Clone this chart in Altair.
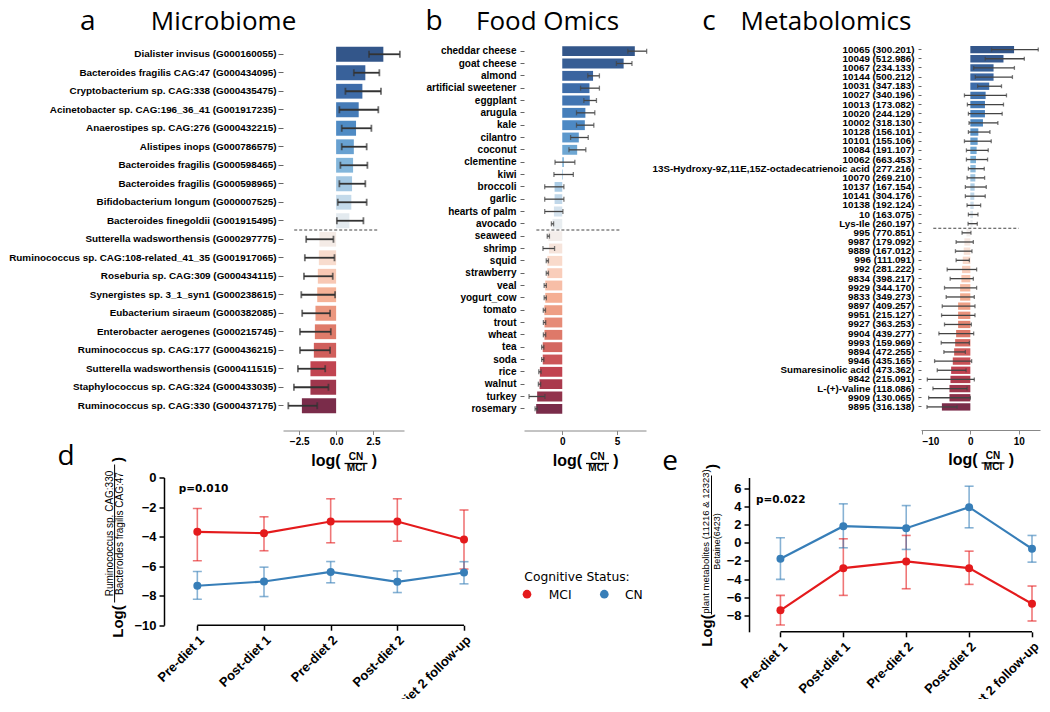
import altair as alt
import numpy as np
import pandas as pd

FONT = "Liberation Sans"
TFONT = "Open Sans"
DV = "DejaVu Sans"
RED = "#e41a1c"
BLUE = "#377eb8"

# ---------------- data: panel a (Microbiome) ----------------
micro_labels = [
    "Dialister invisus (G000160055)",
    "Bacteroides fragilis CAG:47 (G000434095)",
    "Cryptobacterium sp. CAG:338 (G000435475)",
    "Acinetobacter sp. CAG:196_36_41 (G001917235)",
    "Anaerostipes sp. CAG:276 (G000432215)",
    "Alistipes inops (G000786575)",
    "Bacteroides fragilis (G000598465)",
    "Bacteroides fragilis (G000598965)",
    "Bifidobacterium longum (G000007525)",
    "Bacteroides finegoldii (G001915495)",
    "Sutterella wadsworthensis (G000297775)",
    "Ruminococcus sp. CAG:108-related_41_35 (G001917065)",
    "Roseburia sp. CAG:309 (G000434115)",
    "Synergistes sp. 3_1_syn1 (G000238615)",
    "Eubacterium siraeum (G000382085)",
    "Enterobacter aerogenes (G000215745)",
    "Ruminococcus sp. CAG:177 (G000436215)",
    "Sutterella wadsworthensis (G000411515)",
    "Staphylococcus sp. CAG:324 (G000433035)",
    "Ruminococcus sp. CAG:330 (G000437175)",
]
micro_value = [3.2, 1.98, 1.78, 1.53, 1.35, 1.2, 1.15, 1.08, 1.03, 0.9,
               -1.13, -1.17, -1.24, -1.28, -1.4, -1.44, -1.51, -1.74, -1.74, -2.32]
micro_lo = [2.23, 1.2, 0.63, 0.22, 0.38, 0.38, 0.29, 0.22, 0.11, 0.05,
            -2.03, -2.12, -2.18, -2.36, -2.3, -2.45, -2.45, -2.59, -2.86, -3.24]
micro_hi = [4.32, 2.93, 3.04, 2.86, 2.39, 2.07, 2.12, 1.98, 2.07, 1.85,
            -0.18, -0.11, -0.23, -0.07, -0.41, -0.36, -0.41, -0.74, -0.52, -1.28]
micro_npos = 10
micro_dash = [-2.84, 2.9]

# ---------------- data: panel b (Food Omics) ----------------
food_labels = ["cheddar cheese", "goat cheese", "almond", "artificial sweetener", "eggplant",
               "arugula", "kale", "cilantro", "coconut", "clementine", "kiwi", "broccoli",
               "garlic", "hearts of palm", "avocado", "seaweed", "shrimp", "squid",
               "strawberry", "veal", "yogurt_cow", "tomato", "trout", "wheat", "tea", "soda",
               "rice", "walnut", "turkey", "rosemary"]
food_value = [6.62, 5.6, 2.81, 2.48, 2.51, 2.11, 2.06, 1.51, 1.36, 0.15,
              0.06, -0.7, -0.7, -0.76, -0.89, -1.27, -1.21, -1.36, -1.36, -1.55,
              -1.55, -1.63, -1.62, -1.62, -1.78, -1.78, -2.04, -2.07, -2.29, -2.38]
food_lo = [5.98, 4.94, 2.33, 1.67, 1.97, 1.3, 1.3, 0.76, 0.61, -0.66,
           -0.76, -1.6, -1.6, -1.6, -0.99, -1.37, -1.76, -1.46, -1.46, -1.65,
           -1.65, -1.73, -1.72, -1.72, -1.88, -1.88, -2.14, -2.18, -3.03, -2.48]
food_hi = [7.7, 6.36, 3.39, 3.39, 3.12, 2.97, 2.88, 2.37, 2.15, 1.15,
           1.01, 0.15, 0.15, 0.06, -0.79, -1.17, -0.7, -1.26, -1.26, -1.45,
           -1.45, -1.53, -1.51, -1.51, -1.68, -1.68, -1.93, -1.97, -1.58, -2.28]
food_npos = 15
food_dash = [-2.36, 5.39]

# ---------------- data: panel c (Metabolomics) ----------------
metab_labels = [
    "10065 (300.201)", "10049 (512.986)", "10067 (234.133)", "10144 (500.212)",
    "10031 (347.183)", "10027 (340.196)", "10013 (173.082)", "10020 (244.129)",
    "10002 (318.130)", "10128 (156.101)", "10101 (155.106)", "10084 (191.107)",
    "10062 (663.453)", "13S-Hydroxy-9Z,11E,15Z-octadecatrienoic acid (277.216)",
    "10070 (269.210)", "10137 (167.154)", "10141 (304.176)", "10138 (192.124)",
    "10 (163.075)", "Lys-Ile (260.197)", "995 (770.851)", "9987 (179.092)",
    "9889 (167.012)", "996 (111.091)", "992 (281.222)", "9834 (398.217)",
    "9929 (344.170)", "9833 (349.273)", "9897 (409.257)", "9951 (215.127)",
    "9927 (363.253)", "9904 (439.277)", "9993 (159.969)", "9894 (472.255)",
    "9946 (435.165)", "Sumaresinolic acid (473.362)", "9842 (215.091)",
    "L-(+)-Valine (118.086)", "9909 (130.065)", "9895 (316.138)",
]
metab_value = [9.04, 6.85, 4.8, 4.8, 3.9, 3.16, 3.02, 3.02, 2.61, 1.65,
               1.51, 1.3, 1.17, 1.1, 1.03, 0.89, 0.82, 0.69, 0.55, 0.48,
               -0.8, -1.23, -1.37, -1.57, -1.71, -1.85, -2.12, -2.12, -2.53, -2.53,
               -2.53, -2.94, -3.14, -3.35, -3.63, -3.97, -4.11, -4.31, -4.31, -5.88]
metab_lo = [4.39, 3.08, 0.69, 1.03, 1.51, -1.22, -0.61, -0.4, -0.27, -0.4,
            -1.22, -0.81, -0.81, -0.4, -0.68, -1.03, -1.03, -0.68, -0.4, -0.47,
            -1.71, -2.94, -3.08, -2.94, -4.79, -4.17, -5.34, -4.99, -5.81, -5.95,
            -5.34, -6.5, -6.02, -5.47, -7.39, -6.84, -8.89, -7.73, -8.62, -8.96]
metab_hi = [14.04, 11.16, 9.11, 8.7, 6.44, 7.47, 6.85, 6.58, 5.69, 4.05,
            4.32, 3.7, 3.56, 2.88, 2.95, 3.29, 3.08, 2.13, 1.58, 1.44,
            0.13, 0.62, 0.34, -0.2, 1.3, 0.62, 1.3, 0.82, 0.96, 0.96,
            0.21, 0.69, -0.2, -1.03, 0.27, -0.88, 0.82, -0.68, 0.0, -2.74]
metab_npos = 20
metab_dash = [-7.66, 10.0]

# ---------------- data: panels d / e ----------------
timepoints = ["Pre-diet 1", "Post-diet 1", "Pre-diet 2", "Post-diet 2", "Diet 2 follow-up"]
d_mci = [-3.68, -3.77, -2.98, -2.98, -4.2]
d_mci_lo = [-5.64, -4.96, -4.42, -4.31, -6.2]
d_mci_hi = [-2.1, -2.66, -1.44, -1.44, -2.2]
d_cn = [-7.33, -7.04, -6.39, -7.06, -6.43]
d_cn_lo = [-8.24, -8.06, -7.13, -7.79, -7.2]
d_cn_hi = [-6.36, -6.07, -5.69, -6.32, -5.7]

e_mci = [-7.44, -2.79, -2.05, -2.79, -6.71]
e_mci_lo = [-9.05, -5.79, -5.06, -4.58, -8.61]
e_mci_hi = [-5.79, 0.44, 0.81, -0.92, -4.76]
e_cn = [-1.76, 1.83, 1.61, 3.92, -0.66]
e_cn_lo = [-4.03, -0.55, -0.73, 1.65, -2.13]
e_cn_hi = [0.55, 4.29, 4.1, 6.23, 0.81]

status_names = ["MCI", "CN"]

# ---------------- helpers ----------------
ONE = pd.DataFrame({"t": [""]})

shade_scale = alt.Scale(
    domain=[i / 10 for i in range(11)],
    range=["#33568a", "#3d6ba8", "#4a86c2", "#79b1d9", "#b8d3e8", "#f2f2f2",
           "#fad6c5", "#f4ab8e", "#dc7566", "#c0414f", "#7a2c4a"],
    interpolate="rgb",
)


def txt(s, x, y, size, weight="bold", font=FONT, align="center",
        baseline="alphabetic", angle=None, color="black"):
    kw = dict(fontSize=size, fontWeight=weight, font=font, align=align,
              baseline=baseline, color=color)
    if angle is not None:
        kw["angle"] = angle
    return alt.Chart(pd.DataFrame({"t": [s]})).mark_text(**kw).encode(
        text="t:N", x=alt.value(x), y=alt.value(y))


def rule_h(x1, x2, y, w=1.2, color="black"):
    return alt.Chart(ONE).mark_rule(strokeWidth=w, color=color).encode(
        x=alt.value(x1), x2=alt.value(x2), y=alt.value(y))


def rule_v(x, y1, y2, w=1.0, color="black"):
    return alt.Chart(ONE).mark_rule(strokeWidth=w, color=color).encode(
        x=alt.value(x), y=alt.value(y1), y2=alt.value(y2))


def dot(x, y, color, size=75):
    return alt.Chart(ONE).mark_circle(color=color, size=size, opacity=1).encode(
        x=alt.value(x), y=alt.value(y))


def spacer(w):
    return alt.Chart(ONE).mark_point(opacity=0).encode(
        x=alt.value(0), y=alt.value(0)).properties(width=w, height=1)


def bar_panel(labels, value, lo, hi, n_pos, dash, xdom, xticks, xfmt, w, h,
              lab_size, lab_pad, tick_len, x_off, cap, ew, ecol,
              letter, name, lx, nx):
    n = len(labels)
    df = pd.DataFrame({"label": labels, "value": value, "lo": lo, "hi": hi,
                       "shade": np.arange(n) / (n - 1)})
    xs = alt.Scale(domain=xdom, nice=False, zero=False)
    ys = alt.Scale(paddingInner=0.2, paddingOuter=0.1)
    yax = alt.Axis(title=None, domain=False, ticks=True, tickSize=tick_len,
                   tickColor="#666", tickWidth=1, labelFont=FONT,
                   labelFontSize=lab_size, labelFontWeight="bold",
                   labelColor="black", labelPadding=lab_pad, labelLimit=600,
                   labelOverlap=False)
    xax = alt.Axis(title=None, values=xticks, format=xfmt, offset=x_off, grid=False,
                   domainColor="#888", domainWidth=1, tickColor="#888", tickSize=4,
                   labelFont=FONT, labelFontSize=10, labelFontWeight="bold",
                   labelColor="black", labelPadding=2, labelOverlap=False,
                   tickCount=20)
    base = alt.Chart(df)
    yplain = alt.Y("label:N", sort=labels, title=None)
    bars = base.mark_bar().encode(
        y=alt.Y("label:N", sort=labels, scale=ys, axis=yax, title=None),
        x=alt.X("value:Q", scale=xs, axis=xax, title=None),
        color=alt.Color("shade:Q", scale=shade_scale, legend=None),
    )
    err = base.mark_rule(color=ecol, strokeWidth=ew).encode(
        y=yplain, x=alt.X("lo:Q", title=None), x2="hi:Q")
    c1 = base.mark_tick(color=ecol, thickness=ew, size=cap, orient="vertical").encode(
        y=yplain, x=alt.X("lo:Q", title=None))
    c2 = base.mark_tick(color=ecol, thickness=ew, size=cap, orient="vertical").encode(
        y=yplain, x=alt.X("hi:Q", title=None))
    ddf = pd.DataFrame({"label": [labels[n_pos]], "x1": [dash[0]], "x2": [dash[1]]})
    step = h / n
    dl = alt.Chart(ddf).mark_rule(color="#444", strokeWidth=1, strokeDash=[3, 2],
                                  yOffset=-0.1 * step).encode(
        y=alt.Y("label:N", sort=labels, title=None, bandPosition=0),
        x=alt.X("x1:Q", title=None), x2="x2:Q")
    ay = h + x_off
    cx = w / 2
    deco = [
        txt(letter, lx, -14.8, 28, weight="normal", font=TFONT),
        txt(name, nx, -14.8, 26, weight="normal", font=TFONT),
        txt("log(", cx - 17.5, ay + 35.3, 16),
        txt("CN", cx + 12.5, ay + 29.3, 10),
        rule_h(cx + 1, cx + 24, ay + 33, 1.3),
        txt("MCI", cx + 12.5, ay + 40.3, 10),
        txt(")", cx + 31, ay + 35.3, 16),
    ]
    return alt.layer(bars, err, c1, c2, dl, *deco).properties(width=w, height=h)


def line_panel(mci, mci_lo, mci_hi, cn, cn_lo, cn_hi, ydom, yticks, cell_w, plot_w, h, deco):
    rows = []
    for i in range(len(timepoints)):
        rows.append({"idx": i, "status": status_names[0], "m": mci[i], "lo": mci_lo[i], "hi": mci_hi[i]})
        rows.append({"idx": i, "status": status_names[1], "m": cn[i], "lo": cn_lo[i], "hi": cn_hi[i]})
    df = pd.DataFrame(rows)
    xs = alt.Scale(domain=[-0.5, len(timepoints) - 1], range=[0, plot_w], nice=False, zero=False)
    ys = alt.Scale(domain=ydom, nice=False, zero=False)
    lab_expr = "[" + ",".join("'%s'" % t for t in timepoints) + "][datum.value]"
    xax = alt.Axis(title=None, values=list(range(len(timepoints))), labelExpr=lab_expr,
                   domain=False, ticks=True, tickSize=5, tickWidth=1.5, tickColor="black",
                   labelAngle=-45, labelAlign="right", labelBaseline="top",
                   labelFont=FONT, labelFontSize=13, labelFontWeight="bold",
                   labelColor="black", grid=False, labelPadding=3, labelOverlap=False,
                   tickCount=20)
    yax = alt.Axis(title=None, values=yticks, format="d", domainColor="black", domainWidth=1.5,
                   tickColor="black", tickWidth=1.5, tickSize=5, labelFont=FONT,
                   labelFontSize=13, labelFontWeight="bold", labelColor="black",
                   grid=False, labelPadding=3, labelOverlap=False, tickCount=20)
    col = alt.Color("status:N", scale=alt.Scale(domain=status_names, range=[RED, BLUE]),
                    legend=None)
    base = alt.Chart(df)
    line = base.mark_line(strokeWidth=2.2).encode(
        x=alt.X("idx:Q", scale=xs, axis=xax, title=None),
        y=alt.Y("m:Q", scale=ys, axis=yax, title=None), color=col)
    pts = base.mark_circle(size=64, opacity=1).encode(
        x=alt.X("idx:Q", title=None), y=alt.Y("m:Q", title=None), color=col)
    err = base.mark_rule(strokeWidth=1.6, opacity=0.6).encode(
        x=alt.X("idx:Q", title=None), y=alt.Y("lo:Q", title=None), y2="hi:Q", color=col)
    cap1 = base.mark_tick(orient="horizontal", size=9, thickness=1.6, opacity=0.6).encode(
        x=alt.X("idx:Q", title=None), y=alt.Y("lo:Q", title=None), color=col)
    cap2 = base.mark_tick(orient="horizontal", size=9, thickness=1.6, opacity=0.6).encode(
        x=alt.X("idx:Q", title=None), y=alt.Y("hi:Q", title=None), color=col)
    xline = alt.Chart(pd.DataFrame({"a": [0], "b": [len(timepoints) - 1]})).mark_rule(
        strokeWidth=1.5, color="black").encode(
        x=alt.X("a:Q", scale=xs, title=None), x2="b:Q", y=alt.value(h))
    return alt.layer(err, cap1, cap2, line, pts, xline, *deco).properties(width=cell_w, height=h)


# ---------------- panels ----------------
pa = bar_panel(micro_labels, micro_value, micro_lo, micro_hi, micro_npos, micro_dash,
               [-3.6, 4.6], [-2.5, 0, 2.5], ".1f", 121, 370,
               9.9, 2, 5, 15.5, 7, 1.8, "#333", "a", "Microbiome", -195.3, -59.5)
pb = bar_panel(food_labels, food_value, food_lo, food_hi, food_npos, food_dash,
               [-3.49, 7.64], [0, 5], "d", 122, 370,
               10, 4, 4, 15.5, 5, 1.3, "#444", "b", "Food Omics", -90, 23.5)
pc = bar_panel(metab_labels, metab_value, metab_lo, metab_hi, metab_npos, metab_dash,
               [-10.2, 14.4], [-10, 0, 10], "d", 119, 366.5,
               9.8, 4, 3, 18.5, 4, 1.3, "#444", "c", "Metabolomics", -212, -95)

d_deco = [
    txt("d", -98, -12.3, 28, weight="normal", font=TFONT),
    txt("p=0.010", 39.5, 14.3, 10.5, font=DV),
    txt("Log(", -46.2, 144, 15, baseline="middle", angle=270),
    txt("Ruminococcus sp. CAG:330", -54, 56, 10, weight="normal", baseline="middle", angle=270),
    rule_v(-49.4, -13, 125, 1),
    txt("Bacteroides fragilis CAG:47", -44, 56, 10, weight="normal", baseline="middle", angle=270),
    txt(")", -46.2, -18, 15, baseline="middle", angle=270),
    txt("Cognitive Status:", 360.3, 103, 12.3, weight="normal", font=DV, align="left"),
    dot(363, 116.7, RED),
    txt("MCI", 384.7, 121, 12.3, weight="normal", font=DV, align="left"),
    dot(440.3, 116.7, BLUE),
    txt("CN", 461, 121, 12.3, weight="normal", font=DV, align="left"),
]
pd_ = line_panel(d_mci, d_mci_lo, d_mci_hi, d_cn, d_cn_lo, d_cn_hi,
                 [-10, 0], [-10, -8, -6, -4, -2, 0], 119, 300, 147.7, d_deco)

e_deco = [
    txt("e", -79, -8, 28, weight="normal", font=TFONT),
    txt("p=0.022", 31.7, 25, 10.5, font=DV),
    txt("Log(", -42, 153, 15, baseline="middle", angle=270),
    txt("plant metabolites (11216 & 12323)", -43, 64, 9.5, weight="normal", baseline="middle", angle=270),
    rule_v(-37.5, -2, 137, 1),
    txt("Betaine(6423)", -32.3, 64, 9, weight="normal", baseline="middle", angle=270),
    txt(")", -37.5, -11, 15, baseline="middle", angle=270),
]
pe = line_panel(e_mci, e_mci_lo, e_mci_hi, e_cn, e_cn_lo, e_cn_hi,
                [-9.8, 7.19], [-8, -6, -4, -2, 0, 2, 4, 6], 172, 283, 154.3, e_deco)

# grid: 5 columns; every column's width is the widest cell in it
cells = [spacer(119), pa, pb, spacer(172), pc,
         pd_, spacer(241), spacer(225), pe, spacer(1)]

chart = alt.concat(*cells, columns=5, spacing={"row": 62.5, "column": 0},
                   align="each", bounds="flush")
chart = chart.resolve_scale(color="independent").configure_view(stroke=None).properties(
    padding={"left": 0, "top": 0, "right": 0, "bottom": -19})

chart.save("out.html", embed_options={"renderer": "svg", "actions": False})
